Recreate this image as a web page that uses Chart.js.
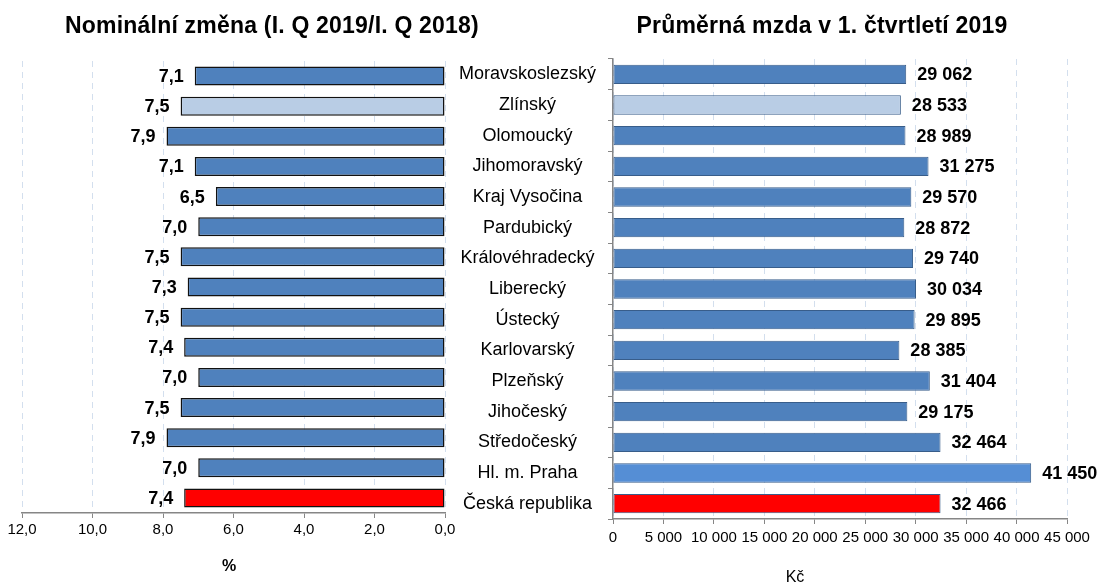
<!DOCTYPE html>
<html>
<head>
<meta charset="utf-8">
<script src="https://cdn.jsdelivr.net/npm/chart.js@4.4.1/dist/chart.umd.min.js"></script>
<style>
  body { margin: 0; background: #fff; font-family: "Liberation Sans", Arial, sans-serif; }
  #wrap { position: relative; width: 1101px; height: 583px; overflow: hidden; }
  canvas { position: absolute; top: 0; }
  #left { left: 0; }
  #right { left: 450px; }
  .title { position: absolute; top: 12px; font-size: 23px; letter-spacing: 0.2px; font-weight: bold; white-space: nowrap; transform: translateX(-50%); color: #000; }
  .axis-title { position: absolute; font-size: 16px; white-space: nowrap; transform: translateX(-50%); color: #000; }
</style>
</head>
<body>
<div id="wrap">
  <canvas id="left" width="460" height="583"></canvas>
  <canvas id="right" width="651" height="583"></canvas>
  <div class="title" style="left:272px">Nominální změna (I. Q 2019/I. Q 2018)</div>
  <div class="title" style="left:822px">Průměrná mzda v 1. čtvrtletí 2019</div>
  <div class="axis-title" style="left:229px; top:557px; font-weight:bold">%</div>
  <div class="axis-title" style="left:795px; top:568px">Kč</div>
</div>
<script>
// kraje, odshora dolů
var regions = ['Moravskoslezský', 'Zlínský', 'Olomoucký', 'Jihomoravský', 'Kraj Vysočina',
    'Pardubický', 'Královéhradecký', 'Liberecký', 'Ústecký', 'Karlovarský', 'Plzeňský',
    'Jihočeský', 'Středočeský', 'Hl. m. Praha', 'Česká republika'];
// nominální změna mzdy v %
var nominalChange = [7.1, 7.5, 7.9, 7.1, 6.5, 7.0, 7.5, 7.3, 7.5, 7.4, 7.0, 7.5, 7.9, 7.0, 7.4];
// průměrná mzda v Kč
var avgWage = [29062, 28533, 28989, 31275, 29570, 28872, 29740, 30034, 29895, 28385,
    31404, 29175, 32464, 41450, 32466];

var BLUE = '#4F81BD';
function barColor(name) {
    if (name === 'Česká republika') return '#FF0000';
    if (name === 'Zlínský') return '#B9CDE5';
    return BLUE;
}
function wageColor(name) {
    if (name === 'Hl. m. Praha') return '#558ED5';
    return barColor(name);
}

function fmtPct(v) { return v.toFixed(1).replace('.', ','); }
function fmtKc(v) { return String(Math.round(v)).replace(/\B(?=(\d{3})+(?!\d))/g, ' '); }

// popisky hodnot na konci sloupců
var valueLabels = {
    id: 'valueLabels',
    afterDatasetsDraw: function(chart, args, opts) {
        var ctx = chart.ctx;
        var meta = chart.getDatasetMeta(0);
        var data = chart.data.datasets[0].data;
        ctx.save();
        ctx.font = 'bold 18px "Liberation Sans", Arial, sans-serif';
        ctx.fillStyle = '#000';
        ctx.textBaseline = 'middle';
        ctx.textAlign = opts.align;
        meta.data.forEach(function(bar, i) {
            ctx.fillText(opts.format(data[i]), bar.x + opts.offset, bar.y + 1);
        });
        ctx.restore();
    }
};

Chart.defaults.font.family = '"Liberation Sans", Arial, sans-serif';
Chart.defaults.color = '#000';

var GRID = '#d3dfee';
var AXIS = '#868686';

var left_chart = new Chart(document.getElementById('left'), {
    type: 'bar',
    data: {
        labels: regions,
        datasets: [{
            data: nominalChange,
            backgroundColor: regions.map(barColor),
            borderColor: '#111',
            borderWidth: 1.5,
            borderSkipped: false,
            categoryPercentage: 1,
            barPercentage: 0.63
        }]
    },
    options: {
        indexAxis: 'y',
        responsive: false,
        animation: false,
        layout: { padding: { left: 22, right: 15, top: 61, bottom: 41 } },
        plugins: {
            legend: { display: false },
            tooltip: { enabled: false },
            valueLabels: { align: 'right', offset: -11, format: fmtPct }
        },
        scales: {
            x: {
                reverse: true,
                min: 0,
                max: 12,
                ticks: {
                    stepSize: 2,
                    autoSkip: false,
                    maxRotation: 0,
                    padding: 3,
                    font: { size: 15 },
                    callback: function(v) { return fmtPct(v); }
                },
                grid: { color: GRID, tickColor: AXIS, tickLength: 5, tickBorderDash: [] },
                border: { color: AXIS, width: 1.5, dash: [6, 5] }
            },
            y: { display: false }
        }
    },
    plugins: [valueLabels]
});

var right_chart = new Chart(document.getElementById('right'), {
    type: 'bar',
    data: {
        labels: regions,
        datasets: [{
            data: avgWage,
            backgroundColor: regions.map(wageColor),
            borderColor: '#385D8A',
            borderWidth: 1,
            borderSkipped: false,
            categoryPercentage: 1,
            barPercentage: 0.63
        }]
    },
    options: {
        indexAxis: 'y',
        responsive: false,
        animation: false,
        layout: { padding: { left: 0, right: 34, top: 59, bottom: 31 } },
        plugins: {
            legend: { display: false },
            tooltip: { enabled: false },
            valueLabels: { align: 'left', offset: 11, format: fmtKc }
        },
        scales: {
            x: {
                min: 0,
                max: 45000,
                ticks: {
                    stepSize: 5000,
                    autoSkip: false,
                    maxRotation: 0,
                    minRotation: 0,
                    padding: 5,
                    font: { size: 15 },
                    callback: function(v) { return fmtKc(v); }
                },
                grid: { color: GRID, tickColor: AXIS, tickLength: 5, tickBorderDash: [] },
                border: { color: AXIS, width: 1.5, dash: [6, 5] }
            },
            y: {
                afterFit: function(scale) { scale.width = 163; },
                ticks: { crossAlign: 'center', padding: 12, autoSkip: false, font: { size: 18 } },
                grid: { drawOnChartArea: false, offset: true, tickColor: AXIS, tickLength: 5 },
                border: { color: AXIS, width: 1.5 }
            }
        }
    },
    plugins: [valueLabels]
});
</script>
</body>
</html>
